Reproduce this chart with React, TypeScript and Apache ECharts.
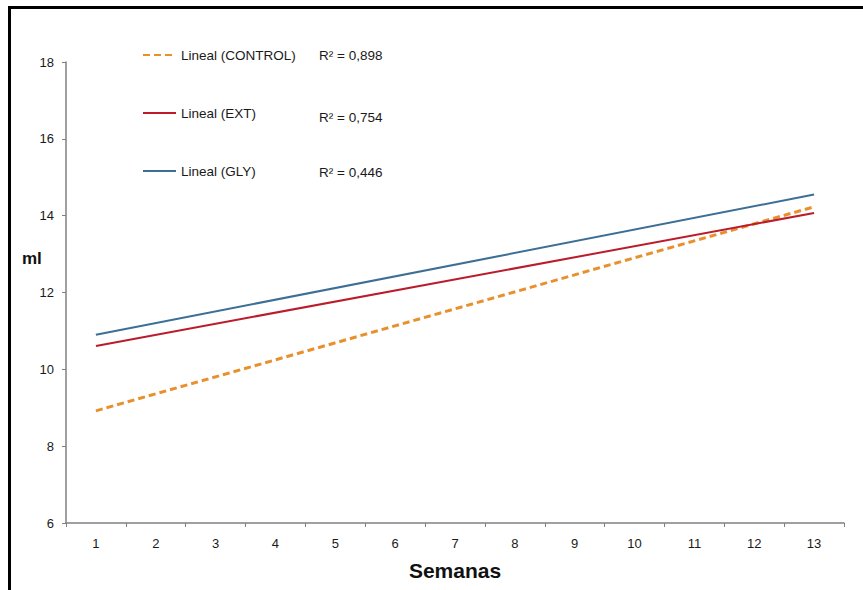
import React, { useEffect, useRef } from "react";
import * as echarts from "echarts";

const weeks = ["1", "2", "3", "4", "5", "6", "7", "8", "9", "10", "11", "12", "13"];
const seriesNames = ["Lineal (CONTROL)", "Lineal (EXT)", "Lineal (GLY)"];
const rSquared = ["R² = 0,898", "R² = 0,754", "R² = 0,446"];
// trend line endpoints: [week index, ml]
const controlTrend = [[0, 8.92], [12, 14.23]];
const extTrend = [[0, 10.61], [12, 14.07]];
const glyTrend = [[0, 10.9], [12, 14.55]];
const yTicks = { min: 6, max: 18, interval: 2 };

const FONT = "'Liberation Sans', Arial, sans-serif";

export default function App() {
  const ref = useRef<HTMLDivElement>(null);
  useEffect(() => {
    if (!ref.current) return;
    const chart = echarts.init(ref.current, null, { renderer: "svg" });
    chart.setOption({
      animation: false,
      backgroundColor: "#ffffff",
      textStyle: { fontFamily: FONT },
      grid: { left: 66, right: 19, top: 62, bottom: 67 },
      legend: {
        orient: "vertical",
        left: 137,
        top: 43,
        itemWidth: 33,
        itemHeight: 14,
        itemGap: 44,
        itemStyle: { opacity: 0 },
        textStyle: { fontSize: 13.5, color: "#1a1a1a", fontFamily: FONT },
        data: seriesNames,
      },
      xAxis: {
        type: "category",
        data: weeks,
        boundaryGap: true,
        axisLine: { lineStyle: { color: "#808080", width: 1.5 } },
        axisTick: { show: true, length: 4, lineStyle: { color: "#808080" } },
        axisLabel: { fontSize: 13, color: "#1a1a1a", margin: 14, fontFamily: FONT },
        splitLine: { show: false },
        name: "Semanas",
        nameLocation: "middle",
        nameGap: 37,
        nameTextStyle: { fontSize: 21, fontWeight: "bold", color: "#111", fontFamily: FONT },
      },
      yAxis: {
        type: "value",
        min: yTicks.min,
        max: yTicks.max,
        interval: yTicks.interval,
        axisLine: { show: true, lineStyle: { color: "#808080", width: 1.5 } },
        axisTick: { show: true, length: 4, lineStyle: { color: "#808080" } },
        axisLabel: { fontSize: 13, color: "#1a1a1a", margin: 12, fontFamily: FONT },
        splitLine: { show: false },
      },
      graphic: [
        {
          type: "rect",
          shape: { x: 9.5, y: 7.5, width: 900, height: 700 },
          style: { fill: "none", stroke: "#000", lineWidth: 3 },
          silent: true,
        },
        {
          type: "text",
          x: 22,
          y: 258,
          style: { text: "ml", fontSize: 17, fontWeight: "bold", fill: "#111", fontFamily: FONT, verticalAlign: "middle" },
        },
        ...rSquared.map((t, i) => ({
          type: "text",
          x: 319,
          y: [55, 117, 172][i],
          style: { text: t, fontSize: 13.5, fill: "#1a1a1a", fontFamily: FONT, verticalAlign: "middle" },
        })),
      ],
      series: [
        {
          name: seriesNames[0],
          type: "line",
          data: controlTrend,
          symbol: "none",
          color: "#E8902C",
          lineStyle: { color: "#E8902C", width: 3, type: [7, 4] },
        },
        {
          name: seriesNames[1],
          type: "line",
          data: extTrend,
          symbol: "none",
          color: "#BA1C2C",
          lineStyle: { color: "#BA1C2C", width: 2 },
        },
        {
          name: seriesNames[2],
          type: "line",
          data: glyTrend,
          symbol: "none",
          color: "#3D6E96",
          lineStyle: { color: "#3D6E96", width: 2 },
        },
      ],
    });
    return () => chart.dispose();
  }, []);
  return (
    <div
      ref={ref}
      style={{ position: "fixed", left: 0, top: 0, width: 863, height: 590 }}
    />
  );
}
